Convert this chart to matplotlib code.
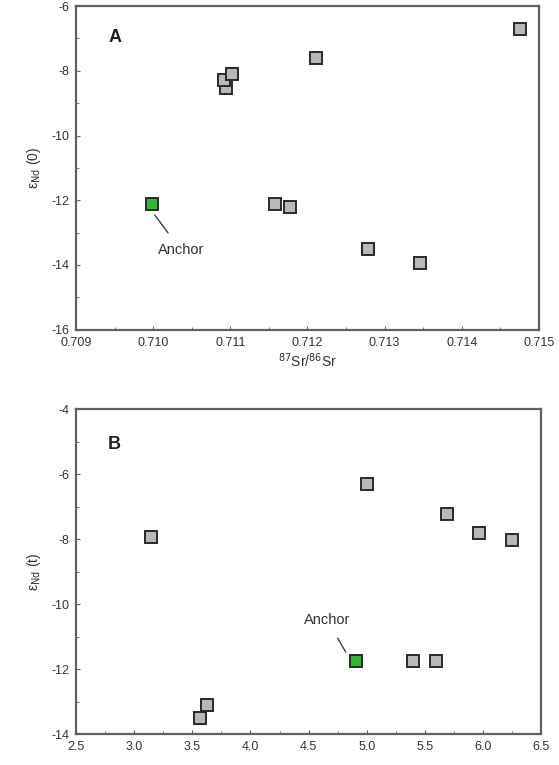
import matplotlib
matplotlib.use("Agg")
import matplotlib.pyplot as plt
from matplotlib.ticker import MultipleLocator, FormatStrFormatter

plt.rcParams['font.family'] = ['Liberation Sans', 'DejaVu Sans']
plt.rcParams['axes.unicode_minus'] = False

# Panel A data
a_x = [0.71094, 0.71092, 0.71102, 0.71211, 0.71476, 0.71158, 0.71177, 0.71278, 0.71346]
a_y = [-8.54, -8.28, -8.10, -7.60, -6.71, -12.11, -12.21, -13.51, -13.93]
a_anchor_x = [0.70998]
a_anchor_y = [-12.12]

# Panel B data
b_x = [3.145, 3.63, 3.567, 5.0, 5.689, 5.967, 6.248, 5.396, 5.60]
b_y = [-7.92, -13.10, -13.51, -6.31, -7.21, -7.82, -8.02, -11.73, -11.73]
b_anchor_x = [4.906]
b_anchor_y = [-11.73]

grey_fill = '#b8b8b8'
green_fill = '#33b533'
edge = '#2a2a2a'
spine_col = '#606060'
tick_col = '#333333'

fig = plt.figure(figsize=(5.59, 7.65), dpi=100)
axA = fig.add_axes([0.136, 0.569, 0.828, 0.423])
axB = fig.add_axes([0.136, 0.040, 0.832, 0.425])

def style(ax):
    for s in ax.spines.values():
        s.set_color(spine_col)
        s.set_linewidth(1.6)
    ax.tick_params(which='both', direction='in', colors=spine_col, labelcolor=tick_col,
                   labelsize=9, top=False, right=False, pad=5)
    ax.tick_params(which='major', length=3)
    ax.tick_params(which='minor', length=2)

# Panel A
axA.plot(a_x, a_y, 's', ms=8.5, mfc=grey_fill, mec=edge, mew=1.4, ls='none')
axA.plot(a_anchor_x, a_anchor_y, 's', ms=8.5, mfc=green_fill, mec=edge, mew=1.4, ls='none')
axA.set_xlim(0.709, 0.715)
axA.set_ylim(-16, -6)
axA.xaxis.set_major_locator(MultipleLocator(0.001))
axA.xaxis.set_minor_locator(MultipleLocator(0.0005))
axA.xaxis.set_major_formatter(FormatStrFormatter('%.3f'))
axA.yaxis.set_major_locator(MultipleLocator(2))
axA.yaxis.set_minor_locator(MultipleLocator(1))
style(axA)
axA.set_xlabel('$^{87}$Sr/$^{86}$Sr', fontsize=10, color=tick_col, labelpad=2)
axA.set_ylabel('ε$_{\\mathrm{Nd}}$ (0)', fontsize=10, color=tick_col, labelpad=6)
axA.text(0.084, 0.904, 'A', transform=axA.transAxes, fontsize=13, fontweight='bold',
         ha='center', va='center', color='#222222')
axA.annotate('Anchor', xy=(0.71002, -12.45), xytext=(0.71036, -13.55),
             fontsize=10.5, color=tick_col, ha='center', va='center',
             arrowprops=dict(arrowstyle='-', color='#444444', lw=1.0, shrinkA=7, shrinkB=0))

# Panel B
axB.plot(b_x, b_y, 's', ms=8.5, mfc=grey_fill, mec=edge, mew=1.4, ls='none')
axB.plot(b_anchor_x, b_anchor_y, 's', ms=8.5, mfc=green_fill, mec=edge, mew=1.4, ls='none')
axB.set_xlim(2.5, 6.5)
axB.set_ylim(-14, -4)
axB.xaxis.set_major_locator(MultipleLocator(0.5))
axB.xaxis.set_minor_locator(MultipleLocator(0.25))
axB.xaxis.set_major_formatter(FormatStrFormatter('%.1f'))
axB.yaxis.set_major_locator(MultipleLocator(2))
axB.yaxis.set_minor_locator(MultipleLocator(1))
style(axB)
axB.set_ylabel('ε$_{\\mathrm{Nd}}$ (t)', fontsize=10, color=tick_col, labelpad=6)
axB.text(0.082, 0.893, 'B', transform=axB.transAxes, fontsize=13, fontweight='bold',
         ha='center', va='center', color='#222222')
axB.annotate('Anchor', xy=(4.82, -11.47), xytext=(4.66, -10.48),
             fontsize=10.5, color=tick_col, ha='center', va='center',
             arrowprops=dict(arrowstyle='-', color='#444444', lw=1.0, shrinkA=7, shrinkB=0))

fig.savefig('out.png', dpi=100)
